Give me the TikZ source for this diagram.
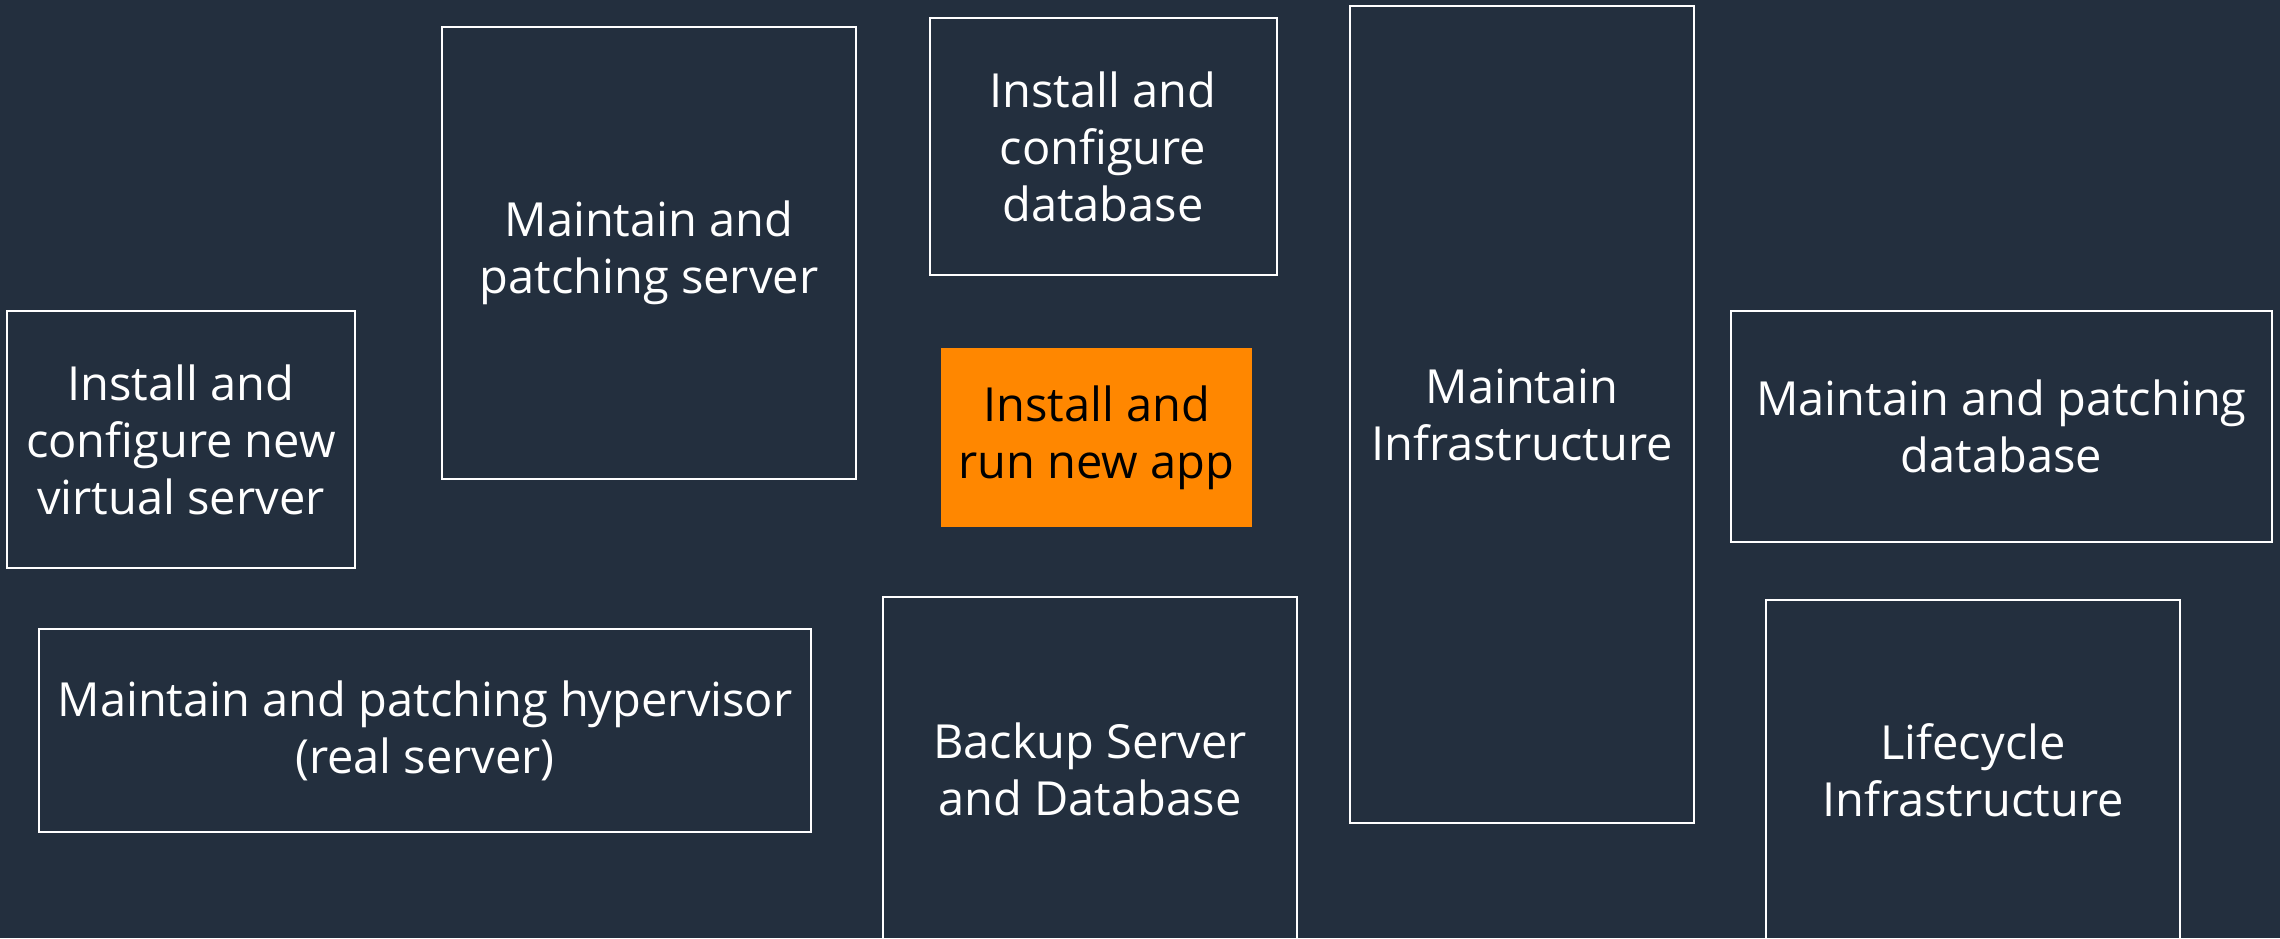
\documentclass[tikz,border=0pt]{standalone}
\usepackage{fontspec}
\setmainfont{Open Sans}
\definecolor{squid}{HTML}{232F3E}
\definecolor{awsorange}{HTML}{FF8700}

\begin{document}
\begin{tikzpicture}[
  x=1pt, y=1pt,
  every node/.style={font=\fontsize{47}{57}\selectfont, align=center},
  task/.style={rectangle, draw=white, line width=2pt, text=white, inner sep=0pt},
  focus/.style={rectangle, fill=awsorange, text=black, inner sep=0pt}
]
  \useasboundingbox (0,0) rectangle (2280,938);
  \fill[squid] (0,0) rectangle (2280,938);

  \node[task, minimum width=348pt, minimum height=257pt] (vserver) at (181,498.5)
    {Install and\\configure new\\virtual server};
  \node[task, minimum width=414pt, minimum height=452pt] (patchserver) at (649,685)
    {Maintain and\\patching server};
  \node[task, minimum width=347pt, minimum height=257pt] (confdb) at (1103,791.5)
    {Install and\\configure\\database};
  \node[focus, minimum width=311pt, minimum height=179pt] (app) at (1096.5,500.5)
    {Install and\\run new app};
  \node[task, minimum width=344pt, minimum height=817pt] (infra) at (1522,523.5)
    {Maintain\\Infrastructure};
  \node[task, minimum width=541pt, minimum height=231pt] (patchdb) at (2001.5,511.5)
    {Maintain and patching\\database};
  \node[task, minimum width=772pt, minimum height=203pt] (hypervisor) at (425,207.5)
    {Maintain and patching hypervisor\\(real server)};
  \node[task, minimum width=414pt, minimum height=344pt] (backup) at (1090,169)
    {Backup Server\\and Database};
  \node[task, minimum width=414pt, minimum height=340pt] (lifecycle) at (1973,168)
    {Lifecycle\\Infrastructure};
\end{tikzpicture}
\end{document}
